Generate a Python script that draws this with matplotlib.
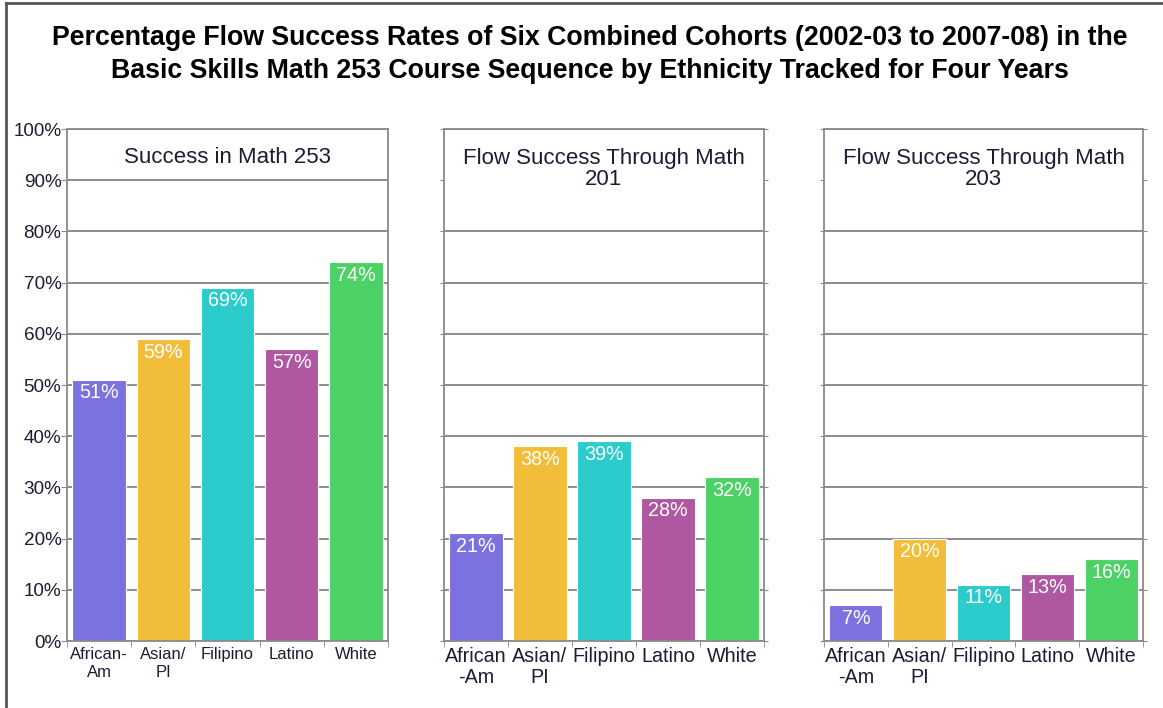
import matplotlib
matplotlib.use("Agg")
import matplotlib.pyplot as plt
from matplotlib.lines import Line2D
import numpy as np

plt.rcParams["font.family"] = ["Liberation Sans", "DejaVu Sans"]

TITLE_1 = "Percentage Flow Success Rates of Six Combined Cohorts (2002-03 to 2007-08) in the"
TITLE_2 = "Basic Skills Math 253 Course Sequence by Ethnicity Tracked for Four Years"

panel_titles = ["Success in Math 253", "Flow Success Through Math\n201", "Flow Success Through Math\n203"]
labels_first = ["African-\nAm", "Asian/\nPI", "Filipino", "Latino", "White"]
labels_other = ["African\n-Am", "Asian/\nPI", "Filipino", "Latino", "White"]

math253 = [51, 59, 69, 57, 74]
math201 = [21, 38, 39, 28, 32]
math203 = [7, 20, 11, 13, 16]

colors = ["#7B72E0", "#F2BE3A", "#2CCCCC", "#AF57A1", "#4CD164"]

GRID = "#6e6e6e"
SPINE = "#8a8a8a"
TXT = "#1c1c34"

fig = plt.figure(figsize=(11.63, 7.08), dpi=100)

# frame lines around the figure (top and left)
fig.add_artist(Line2D([6 / 1163, 1], [1 - 3 / 708, 1 - 3 / 708], color="#555555", lw=2))
fig.add_artist(Line2D([6 / 1163, 6 / 1163], [0, 1 - 3 / 708], color="#555555", lw=2))

fig.text(0.507, 1 - 38 / 708, TITLE_1, ha="center", va="center", fontsize=19.3, fontweight="bold", color="black")
fig.text(0.507, 1 - 71 / 708, TITLE_2, ha="center", va="center", fontsize=19.3, fontweight="bold", color="black")

bottom = 1 - 641 / 708
top = 1 - 129 / 708
lefts = [67, 444, 824]
rights = [388, 764, 1143]
series = [math253, math201, math203]

for i in range(3):
    ax = fig.add_axes([lefts[i] / 1163, bottom, (rights[i] - lefts[i]) / 1163, top - bottom])
    vals = series[i]
    xs = np.arange(len(vals))
    ax.bar(xs, vals, width=0.83, color=colors, edgecolor="white", linewidth=0.8, zorder=2)
    for x, v in zip(xs, vals):
        ax.text(x, v - 0.7, f"{v}%", ha="center", va="top", color="white", fontsize=14.2, zorder=3)

    ax.set_xlim(-0.5, 4.5)
    ax.set_ylim(0, 100)
    ax.set_yticks(np.arange(0, 101, 10))
    ax.yaxis.grid(True, color=GRID, linewidth=1.1)
    ax.set_axisbelow(True)

    for s in ax.spines.values():
        s.set_color(SPINE)
        s.set_linewidth(1.3)

    ax.set_xticks(xs)
    ax.set_xticks(np.arange(-0.5, 5, 1), minor=True)
    ax.tick_params(axis="x", which="major", length=0, pad=4, colors=TXT)
    ax.tick_params(axis="x", which="minor", length=4, color=SPINE, direction="out")

    if i == 0:
        ax.set_xticklabels(labels_first, fontsize=12, linespacing=1.3)
        ax.set_yticklabels([f"{v}%" for v in range(0, 101, 10)])
        ax.tick_params(axis="y", length=4, color=SPINE, labelsize=13.6, labelcolor=TXT, pad=0)
        ax.text(2, 94.5, panel_titles[i], ha="center", va="center", fontsize=16, color=TXT, zorder=3)
    else:
        ax.set_xticklabels(labels_other, fontsize=14.2, linespacing=1.15)
        ax.set_yticklabels([])
        ax.tick_params(axis="y", length=3, color=SPINE, left=True, right=True)
        # the title box hides the 90% gridline
        ax.axhspan(81, 99.7, color="white", zorder=1)
        ax.text(2, 92.2, panel_titles[i], ha="center", va="center", fontsize=16, color=TXT,
                linespacing=1.0, zorder=3)

fig.savefig("out.png", dpi=100)
